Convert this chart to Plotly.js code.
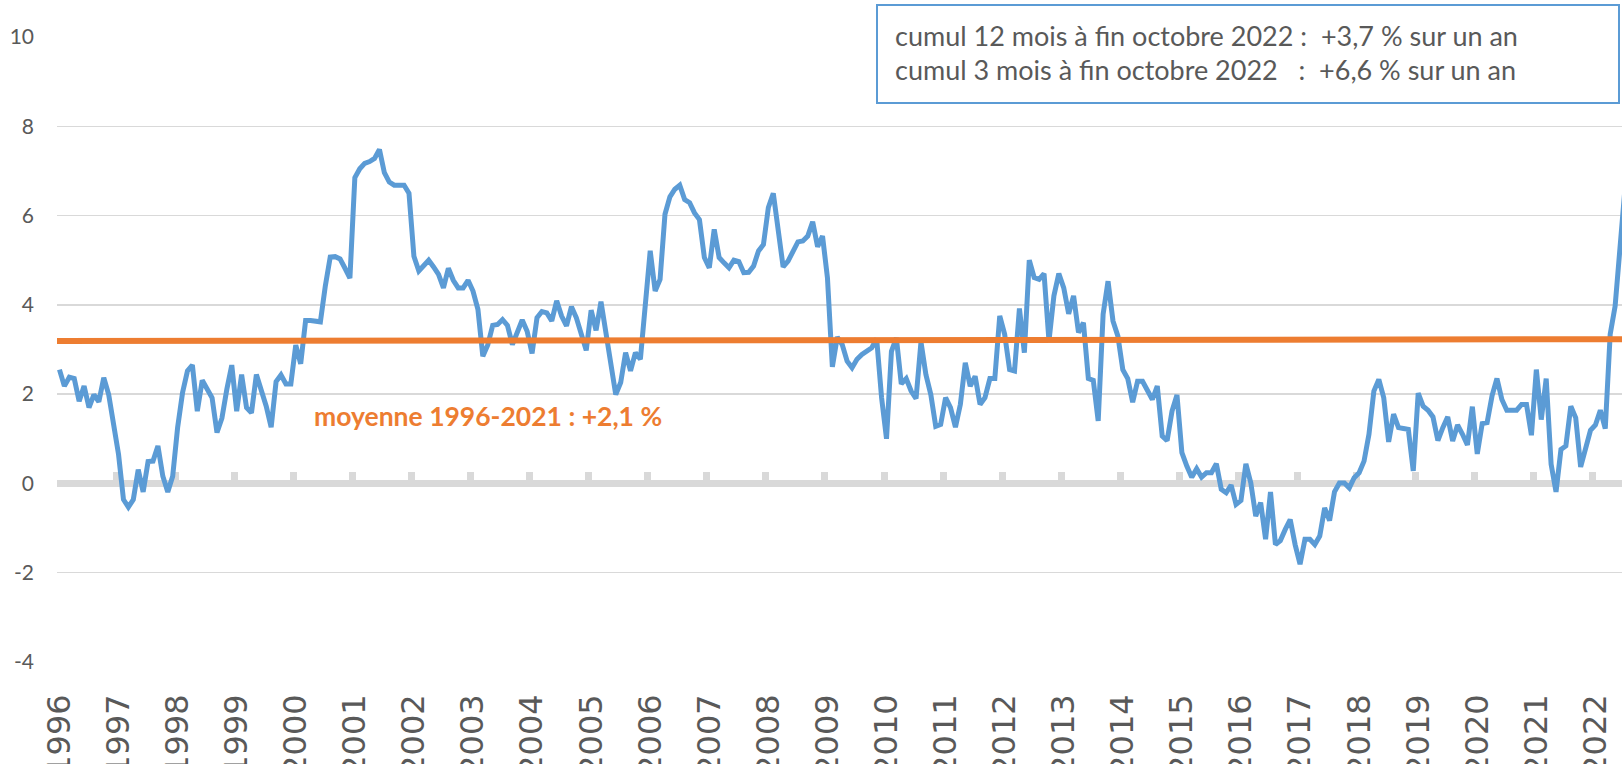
<!DOCTYPE html>
<html>
<head>
<meta charset="utf-8">
<script src="https://cdn.plot.ly/plotly-3.0.1.min.js"></script>
<style>html,body{margin:0;padding:0;background:#fff;}#chart{width:1622px;height:764px;}</style>
</head>
<body>
<div id="chart"></div>
<script>
// Category axis: one tick label per year (monthly data from January 1996)
const years = [1996,1997,1998,1999,2000,2001,2002,2003,2004,2005,2006,2007,2008,2009,2010,2011,2012,2013,2014,2015,2016,2017,2018,2019,2020,2021,2022];

// Monthly series (%), January 1996 onwards
const values = [
  2.55, 2.18, 2.38, 2.35, 1.84, 2.18, 1.70, 1.99, 1.83, 2.37, 1.99, 1.30,
  0.65, -0.36, -0.53, -0.36, 0.31, -0.19, 0.49, 0.50, 0.84, 0.16, -0.19, 0.16,
  1.25, 2.03, 2.52, 2.65, 1.62, 2.31, 2.14, 1.92, 1.14, 1.46, 2.11, 2.65,
  1.62, 2.44, 1.70, 1.58, 2.44, 2.11, 1.73, 1.26, 2.28, 2.43, 2.23, 2.23,
  3.10, 2.68, 3.65, 3.65, 3.63, 3.62, 4.42, 5.07, 5.08, 5.03, 4.82, 4.60,
  6.85, 7.05, 7.17, 7.21, 7.28, 7.48, 6.96, 6.75, 6.68, 6.68, 6.68, 6.50,
  5.09, 4.76, 4.87, 5.00, 4.85, 4.68, 4.38, 4.82, 4.55, 4.38, 4.38, 4.55,
  4.31, 3.90, 2.85, 3.10, 3.54, 3.56, 3.67, 3.54, 3.11, 3.41, 3.66, 3.41,
  2.91, 3.71, 3.85, 3.82, 3.64, 4.09, 3.75, 3.53, 3.96, 3.71, 3.34, 2.98,
  3.88, 3.43, 4.07, 3.41, 2.67, 1.99, 2.26, 2.93, 2.52, 2.93, 2.78, 3.90,
  5.21, 4.31, 4.57, 6.03, 6.42, 6.59, 6.68, 6.36, 6.29, 6.06, 5.91, 5.06,
  4.83, 5.69, 5.06, 4.94, 4.83, 5.00, 4.97, 4.72, 4.73, 4.87, 5.21, 5.35,
  6.18, 6.50, 5.69, 4.85, 4.98, 5.21, 5.41, 5.43, 5.54, 5.86, 5.30, 5.54,
  4.61, 2.61, 3.28, 3.11, 2.74, 2.59, 2.78, 2.89, 2.95, 3.04, 3.24, 1.92,
  1.00, 2.96, 3.26, 2.23, 2.35, 2.07, 1.90, 3.17, 2.44, 1.99, 1.28, 1.32,
  1.92, 1.70, 1.26, 1.77, 2.70, 2.18, 2.40, 1.77, 1.92, 2.35, 2.35, 3.75,
  3.34, 2.55, 2.52, 3.92, 2.93, 5.00, 4.61, 4.57, 4.70, 3.19, 4.20, 4.70,
  4.38, 3.80, 4.20, 3.38, 3.60, 2.35, 2.31, 1.40, 3.79, 4.53, 3.64, 3.30,
  2.55, 2.35, 1.82, 2.29, 2.29, 2.11, 1.88, 2.18, 1.06, 0.96, 1.62, 1.98,
  0.69, 0.39, 0.14, 0.33, 0.14, 0.24, 0.24, 0.44, -0.13, -0.21, -0.04, -0.47,
  -0.38, 0.44, 0.01, -0.73, -0.43, -1.25, -0.19, -1.37, -1.28, -1.03, -0.81, -1.37,
  -1.81, -1.25, -1.25, -1.37, -1.18, -0.55, -0.83, -0.19, 0.01, 0.01, -0.10, 0.13,
  0.24, 0.50, 1.10, 2.07, 2.33, 1.92, 0.93, 1.55, 1.25, 1.23, 1.21, 0.28,
  2.02, 1.73, 1.64, 1.49, 0.96, 1.25, 1.49, 0.95, 1.31, 1.10, 0.86, 1.72,
  0.66, 1.34, 1.36, 1.96, 2.35, 1.88, 1.64, 1.64, 1.64, 1.77, 1.77, 1.08,
  2.55, 1.43, 2.35, 0.43, -0.19, 0.76, 0.84, 1.73, 1.47, 0.37, 0.80, 1.19,
  1.31, 1.64, 1.23, 3.34, 3.97, 5.28, 6.60
];

// Orange reference line: level at start and end of the period
const avgLevel = [3.19, 3.23];

// Y axis ticks
const yTickVals = [-4, -2, 0, 2, 4, 6, 8, 10];
const yTickText = ['-4', '-2', '0', '2', '4', '6', '8', '10'];

// Texts
const avgLabel = 'moyenne 1996-2021 : +2,1 %';
const boxLine1 = 'cumul 12 mois à fin octobre 2022 :\u00a0 +3,7 % sur un an';
const boxLine2 = 'cumul 3 mois à fin octobre 2022 \u00a0\u00a0: \u00a0+6,6 % sur un an';

// ---- build ----
const monthIdx = values.map((v, i) => i);
const xMin = -0.5, xMax = 317.4;
const yMin = -4, yMax = 10;
const labelVals = years.map((y, k) => k * 12);
const boundaryVals = years.map((y, k) => k * 12 - 0.5);

const grey = '#595959';

const traces = [
  {
    x: monthIdx, y: values, type: 'scatter', mode: 'lines',
    line: {color: '#5b9bd5', width: 5, shape: 'linear'},
    hoverinfo: 'skip', xaxis: 'x', yaxis: 'y'
  },
  {
    x: [xMin, xMax], y: avgLevel, type: 'scatter', mode: 'lines',
    line: {color: '#ed7d31', width: 6},
    hoverinfo: 'skip', xaxis: 'x2', yaxis: 'y'
  }
];

const layout = {
  width: 1622, height: 764,
  margin: {l: 57, r: 0, t: 37, b: 102, pad: 0},
  paper_bgcolor: '#ffffff', plot_bgcolor: '#ffffff',
  showlegend: false,
  font: {family: 'Lato, "Open Sans", sans-serif', color: grey},
  xaxis: {
    range: [xMin, xMax], tickmode: 'array', tickvals: labelVals,
    ticktext: years.map(String), tickangle: -90,
    tickfont: {family: '"DejaVu Sans", sans-serif', size: 32, color: grey},
    showgrid: false, zeroline: false, showline: false, ticks: '',
    ticklabelstandoff: 25, fixedrange: true
  },
  xaxis2: {
    overlaying: 'x', anchor: 'free', position: (0 - yMin) / (yMax - yMin), side: 'bottom',
    range: [xMin, xMax], tickmode: 'array', tickvals: boundaryVals,
    ticks: 'inside', ticklen: 11, tickwidth: 7, tickcolor: '#d9d9d9',
    showticklabels: false, showgrid: false, zeroline: false, showline: false,
    layer: 'below traces', fixedrange: true
  },
  yaxis: {
    range: [yMin, yMax], tickmode: 'array', tickvals: yTickVals, ticktext: yTickText,
    tickfont: {family: 'Lato, sans-serif', size: 21, color: grey},
    showgrid: true, gridcolor: '#d9d9d9', gridwidth: 1.5,
    zeroline: true, zerolinecolor: '#d9d9d9', zerolinewidth: 7,
    showline: false, ticks: '', ticklabelstandoff: 22, fixedrange: true
  },
  shapes: [
    {type: 'rect', xref: 'paper', yref: 'paper', layer: 'above',
     x0: (877 - 57) / 1565, x1: (1619 - 57) / 1565,
     y0: 1 - (103 - 37) / 625, y1: 1 + (37 - 5) / 625,
     line: {color: '#5b9bd5', width: 2}, fillcolor: '#ffffff'}
  ],
  annotations: [
    {xref: 'paper', yref: 'paper', x: (312 - 57) / 1565, y: 1 - (416 - 37) / 625,
     xanchor: 'left', yanchor: 'middle', showarrow: false, text: '<b>' + avgLabel + '</b>',
     font: {family: 'Lato, sans-serif', size: 26.5, color: '#ed7d31'}},
    {xref: 'paper', yref: 'paper', x: (893 - 57) / 1565, y: 1 + (37 - 36) / 625,
     xanchor: 'left', yanchor: 'middle', showarrow: false, text: boxLine1,
     font: {family: 'Lato, sans-serif', size: 27, color: grey}},
    {xref: 'paper', yref: 'paper', x: (893 - 57) / 1565, y: 1 - (69 - 37) / 625,
     xanchor: 'left', yanchor: 'middle', showarrow: false, text: boxLine2,
     font: {family: 'Lato, sans-serif', size: 27, color: grey}}
  ]
};

Plotly.newPlot('chart', traces, layout, {displayModeBar: false, staticPlot: true});
</script>
</body>
</html>
